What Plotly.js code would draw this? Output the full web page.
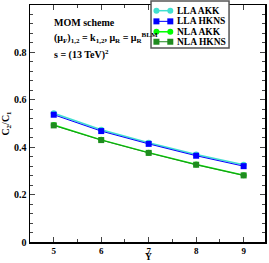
<!DOCTYPE html>
<html><head><meta charset="utf-8">
<script src="https://cdn.plot.ly/plotly-3.0.1.min.js"></script>
<style>html,body{margin:0;padding:0;background:#fff}#c{width:269px;height:263px}</style>
</head><body><div id="c"></div>
<script>
const rapidity = [5, 6, 7, 8, 9];
const llaAkk = [0.543, 0.474, 0.419, 0.369, 0.326];
const llaHkns = [0.537, 0.468, 0.414, 0.364, 0.320];
const nlaAkk = [0.494, 0.431, 0.377, 0.327, 0.282];
const nlaHkns = [0.492, 0.430, 0.376, 0.326, 0.281];
const seriesNames = ["LLA AKK", "LLA HKNS", "NLA AKK", "NLA HKNS"];
const seriesValues = [llaAkk, llaHkns, nlaAkk, nlaHkns];

const F = "Liberation Serif, Times New Roman, serif";
const colors = ["#40e0d0", "#0000ff", "#00ff00", "#1f8b1f"];
const symbols = ["circle", "square", "circle", "square"];
const widths = [1.5, 1, 1.5, 1];

const data = seriesValues.map((y, i) => ({
  x: rapidity, y: y, name: seriesNames[i], type: "scatter", mode: "lines+markers",
  line: {color: colors[i], width: widths[i]},
  marker: {color: colors[i], symbol: symbols[i], size: 6}
}));

// compact legend drawn like the reference
const shapes = [{type: "rect", xref: "paper", yref: "paper", x0: 0.515, x1: 0.847, y0: 0.819, y1: 1.017,
  fillcolor: "#fff", line: {color: "#555", width: 1.5}, layer: "above"}];
const annotations = [];
const rowY = [0.976, 0.931, 0.887, 0.845];
const lx0 = 0.538, lx1 = 0.597;
seriesNames.forEach((n, i) => {
  shapes.push({type: "line", xref: "paper", yref: "paper", x0: lx0, x1: lx1, y0: rowY[i], y1: rowY[i],
    line: {color: colors[i], width: widths[i]}, layer: "above"});
  [lx0, lx1].forEach(xx => {
    shapes.push({type: symbols[i] === "circle" ? "circle" : "rect", xref: "paper", yref: "paper",
      xsizemode: "pixel", ysizemode: "pixel", xanchor: xx, yanchor: rowY[i],
      x0: -3, x1: 3, y0: -3, y1: 3, fillcolor: colors[i], line: {width: 0}, layer: "above"});
  });
  annotations.push({xref: "paper", yref: "paper", x: 0.617, y: rowY[i], xanchor: "left", yanchor: "middle",
    showarrow: false, text: "<b>" + n + "</b>", font: {family: F, size: 9.5}});
});

annotations.push(
  {xref: "paper", yref: "paper", x: 0.095, y: 0.925, xanchor: "left", yanchor: "middle", showarrow: false,
    text: "<b>MOM scheme</b>", font: {family: F, size: 10}},
  {xref: "paper", yref: "paper", x: 0.095, y: 0.86, xanchor: "left", yanchor: "middle", showarrow: false,
    text: "<b>(μ<sub>F</sub>)<sub>1,2</sub> = k<sub>1,2</sub>, μ<sub>R</sub> = μ<sub>R</sub><sup>BLM</sup></b>", font: {family: F, size: 10}},
  {xref: "paper", yref: "paper", x: 0.095, y: 0.79, xanchor: "left", yanchor: "middle", showarrow: false,
    text: "<b>s = (13 TeV)<sup>2</sup></b>", font: {family: F, size: 10}},
  {xref: "paper", yref: "paper", x: 0.505, y: -0.088, xanchor: "center", yanchor: "bottom", showarrow: false,
    text: "<b>Y</b>", font: {family: F, size: 9.5}, borderpad: 0}
);

const layout = {
  width: 269, height: 263,
  margin: {l: 30, r: 4, t: 5, b: 21},
  paper_bgcolor: "#fff", plot_bgcolor: "#fff",
  font: {family: F, size: 10, color: "#000"},
  showlegend: false,
  xaxis: {range: [4.5, 9.45], tickvals: [5, 6, 7, 8, 9], ticks: "inside", ticklen: 5,
    showgrid: false, zeroline: false, showline: true, linecolor: "#000", linewidth: 1.5, mirror: "ticks",
    tickfont: {family: F, size: 9, weight: "bold"},
    minor: {dtick: 0.5, ticks: "inside", ticklen: 3, showgrid: false}},
  yaxis: {range: [0, 1], dtick: 0.2, ticks: "inside", ticklen: 5,
    showgrid: false, zeroline: false, showline: true, linecolor: "#000", linewidth: 1.5, mirror: "ticks",
    tickfont: {family: F, size: 10, weight: "bold"},
    minor: {dtick: 0.04, ticks: "inside", ticklen: 3, showgrid: false},
    title: {text: "<b>C<sub>2</sub>/C<sub>1</sub></b>", standoff: 2, font: {family: F, size: 10}}},
  shapes: shapes,
  annotations: annotations
};
Plotly.newPlot("c", data, layout, {staticPlot: true, displayModeBar: false});
</script></body></html>
